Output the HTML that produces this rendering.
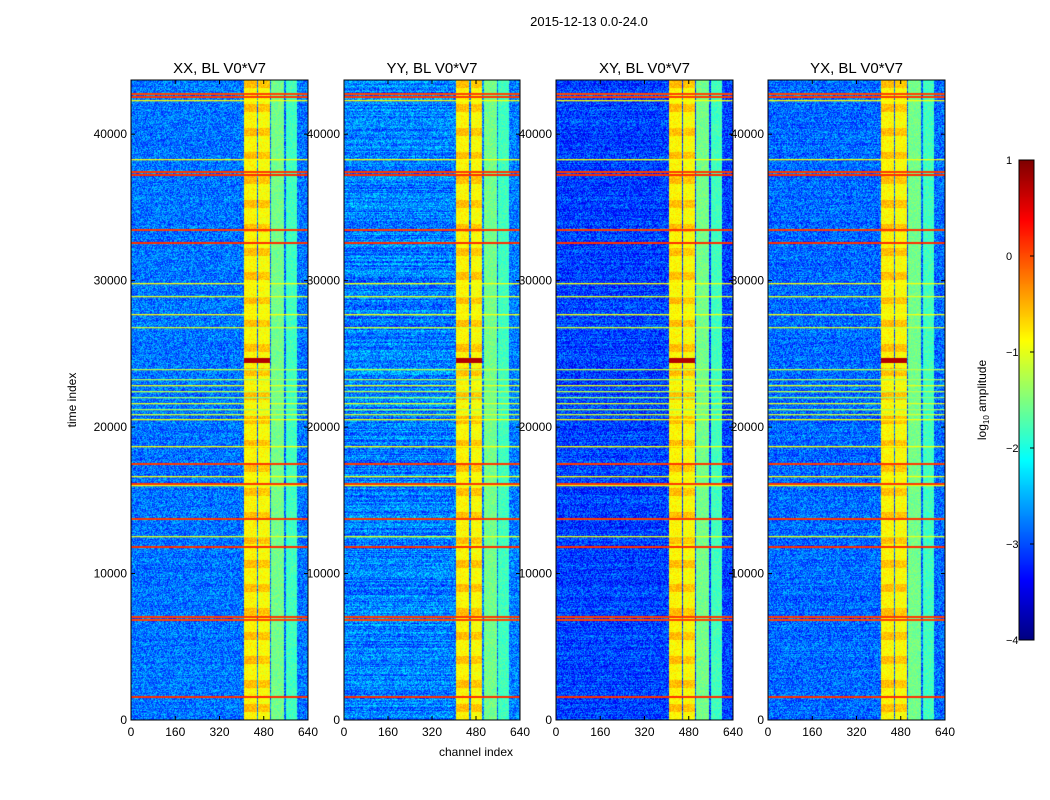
<!DOCTYPE html>
<html><head><meta charset="utf-8">
<style>
body{margin:0;background:#fff;width:1050px;height:800px;position:relative;font-family:"Liberation Sans",sans-serif;overflow:hidden}
canvas{position:absolute}
svg{position:absolute;left:0;top:0}
</style></head>
<body>
<canvas id="p0" width="177" height="640" style="left:131px;top:80px"></canvas>
<canvas id="p1" width="176" height="640" style="left:344px;top:80px"></canvas>
<canvas id="p2" width="177" height="640" style="left:556px;top:80px"></canvas>
<canvas id="p3" width="177" height="640" style="left:768px;top:80px"></canvas>
<canvas id="cb" width="15" height="480" style="left:1019px;top:160px"></canvas>
<svg id="ov" width="1050" height="800" font-family="Liberation Sans, sans-serif">
<text x="589" y="26" font-size="13" text-anchor="middle">2015-12-13 0.0-24.0</text>
<text transform="translate(76,400) rotate(-90)" font-size="12" text-anchor="middle">time index</text>
<text x="476" y="756" font-size="12" text-anchor="middle">channel index</text>
<text transform="translate(986,400) rotate(-90)" font-size="12" text-anchor="middle">log<tspan font-size="8" dy="3">10</tspan><tspan dy="-3"> amplitude</tspan></text>
</svg>
<script>
const panelTitles=["XX, BL V0*V7","YY, BL V0*V7","XY, BL V0*V7","YX, BL V0*V7"];
const panelLefts=[131,344,556,768];
const panelWidths=[177,176,177,177];
const panelBg=[-2.8,-2.75,-3.05,-2.85];
const panelTexture=[0.08,0.25,0.15,0.1];
const timeTicks=[0,10000,20000,30000,40000];
const chanTicks=[0,160,320,480,640];
const cbTicks=[1,0,-1,-2,-3,-4];
// channel bands: start, end, log amplitude
const bandStart=[405,459,506,557];
const bandEnd=[452,499,553,600];
const bandValue=[-0.85,-0.9,-1.55,-1.8];
// flagged horizontal lines: time index and log amplitude
const lineTimes=[42730,42530,42250,38230,37400,37200,33450,32560,29760,28870,27650,26760,23900,23200,22800,22400,22000,21600,21200,20800,20500,18630,17470,16590,16110,15970,13720,12490,11810,7030,6830,1570];
const lineValues=[0.05,0.1,-0.9,-0.9,0.1,0.15,0.1,0.15,-0.9,-1.0,-0.9,-1.1,-1.2,-1.3,-1.0,-1.2,-1.4,-1.0,-1.3,-1.1,-0.9,-0.9,0.1,-0.9,0.1,-1.0,0.1,-1.0,0.15,0.1,0.05,0.15];
// strong band in the bright columns
const hotTime=24550, hotValue=0.75;
const tMax=43700, vMin=-4, vMax=1;

function jet(v){let x=(v-vMin)/(vMax-vMin);x=Math.max(0,Math.min(1,x));
 const r=Math.max(0,Math.min(1,1.5-Math.abs(4*x-3))),g=Math.max(0,Math.min(1,1.5-Math.abs(4*x-2))),b=Math.max(0,Math.min(1,1.5-Math.abs(4*x-1)));
 return [r*255|0,g*255|0,b*255|0];}
let seed=12345;function rnd(){seed=(seed*1103515245+12345)&0x7fffffff;return seed/0x7fffffff;}
const yOf=t=>640-t/tMax*640;
panelLefts.forEach((L,p)=>{
 const W=panelWidths[p];const c=document.getElementById('p'+p);const ctx=c.getContext('2d');
 const img=ctx.createImageData(W,640);
 const rowTex=[];for(let y=0;y<640;y++)rowTex.push((rnd()-0.5)*panelTexture[p]*2);
 for(let y=0;y<640;y++){
  const t=(640-y)/640*tMax;
  for(let x=0;x<W;x++){
   const ch=x/W*640;let v=panelBg[p]+(rnd()-0.5)*0.9+rowTex[y]*(ch<400?1:0.3);
   for(let i=0;i<bandStart.length;i++){if(ch>=bandStart[i]&&ch<bandEnd[i]){v=bandValue[i]+(rnd()-0.5)*0.35+(i<2&&((y>>3)%3==0)?0.3:0);}}
   if(Math.abs(y-yOf(hotTime))<2.5&&ch>=405&&ch<499)v=hotValue;
   const k=(y*W+x)*4;const col=jet(v);img.data[k]=col[0];img.data[k+1]=col[1];img.data[k+2]=col[2];img.data[k+3]=255;
  }}
 ctx.putImageData(img,0,0);
 lineTimes.forEach((t,i)=>{const col=jet(lineValues[i]);ctx.fillStyle=`rgb(${col})`;ctx.fillRect(0,Math.round(yOf(t))-1,W,lineValues[i]>-0.5?2:1.3);});
});
const cb=document.getElementById('cb').getContext('2d');
for(let y=0;y<480;y++){const col=jet(vMax-y/480*(vMax-vMin));cb.fillStyle=`rgb(${col})`;cb.fillRect(0,y,15,1);}
const ov=document.getElementById('ov');const NS='http://www.w3.org/2000/svg';
function el(tag,attrs,txt){const e=document.createElementNS(NS,tag);for(const k in attrs)e.setAttribute(k,attrs[k]);if(txt!==undefined)e.textContent=txt;ov.appendChild(e);return e;}
panelLefts.forEach((L,p)=>{
 const W=panelWidths[p];
 const fr=el('rect',{x:L,y:80,width:W,height:640,fill:'none',stroke:'#000','stroke-width':1});
 
 
 const tt=el('text',{x:L+W/2,y:73,'font-size':15,'text-anchor':'middle'},panelTitles[p]);
 
 
 timeTicks.forEach(t=>{const y=80+yOf(t);
  el('line',{x1:L,x2:L+4,y1:y,y2:y,stroke:'#000'});el('line',{x1:L+W-4,x2:L+W,y1:y,y2:y,stroke:'#000'});
  const lb=el('text',{x:L-4,y:y+4,'font-size':12,'text-anchor':'end'},String(t));
  
  });
 chanTicks.forEach(ch=>{const x=L+ch/640*W;
  el('line',{x1:x,x2:x,y1:716,y2:720,stroke:'#000'});el('line',{x1:x,x2:x,y1:80,y2:84,stroke:'#000'});
  const lb=el('text',{x:x,y:736,'font-size':12,'text-anchor':'middle'},String(ch));
  
  });
});
el('rect',{x:1019,y:160,width:15,height:480,fill:'none',stroke:'#000'});
cbTicks.forEach(v=>{const y=160+(vMax-v)/(vMax-vMin)*480;
 el('line',{x1:1030,x2:1034,y1:y,y2:y,stroke:'#000'});
 const lb=el('text',{x:1006,y:y+4,'font-size':11},v<0?'\u2212'+(-v):String(v));
 
 });
</script>
</body></html>
